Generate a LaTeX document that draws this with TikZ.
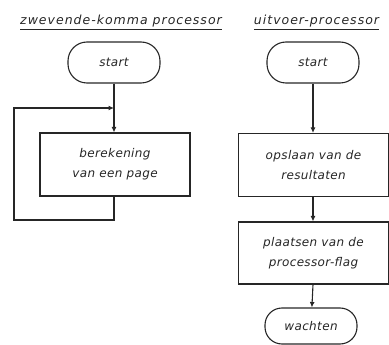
\documentclass[tikz,border=0pt]{standalone}
\usepackage{fontspec}
\setmainfont{DejaVu Sans}
\newfontfamily\titlefont[LetterSpace=8]{DejaVu Sans}
\newfontfamily\boxfont[LetterSpace=3]{DejaVu Sans}
\usepackage{tikz}
\usetikzlibrary{arrows.meta, positioning, calc}
\definecolor{InkGrey}{HTML}{262626}

\begin{document}
\begin{tikzpicture}[x = 1pt, y = -1pt,
		flowline/.style = {draw = InkGrey, line width = 1.1pt},
		flowarrow/.style = {flowline, -{Latex[length = 5.5pt, width = 5pt]}},
		termbox/.style = {flowline, rectangle, rounded corners = 19pt, minimum width = 92pt, minimum height = 41pt, inner sep = 0pt, font = \boxfont\itshape\fontsize{12}{14}\selectfont, text = InkGrey},
		procbox/.style = {flowline, rectangle, minimum width = 150pt, minimum height = 63pt, inner sep = 0pt, align = center, font = \boxfont\itshape\fontsize{12}{20}\selectfont, text = InkGrey},
		headline/.style = {inner sep = 0pt, anchor = base, font = \titlefont\itshape\fontsize{12.5}{14}\selectfont, text = InkGrey}]
						\path [use as bounding box, draw = none] (0, 0) rectangle ++(389, 345);
						\node[headline] (titleL) at (121, 25) {zwevende-komma processor};
						\node[headline] (titleR) at (316.5, 25) {uitvoer-processor};
						\draw[flowline] ($(titleL.base west) + (0, 4.5)$) -- ($(titleL.base east) + (0, 4.5)$);
						\draw[flowline] ($(titleR.base west) + (0, 4.5)$) -- ($(titleR.base east) + (0, 4.5)$);
						\node[termbox] (startL) at (114, 62.5) {start};
						\coordinate (mergeL) at (114, 108);
						\node[procbox] (calcpage) at (115, 164.5) {berekening\\van een page};
						\coordinate (loopL) at (14, 220);
						\draw[flowline] (startL) -- (mergeL);
						\draw[flowarrow] (mergeL) -- (mergeL |- calcpage.north);
						\draw[flowarrow] (calcpage.south -| mergeL) |- (loopL) |- (mergeL);
						\node[termbox] (startR) at (313, 62.5) {start};
						\node[procbox] (storeres) at (313.5, 165) {opslaan van de\\resultaten};
						\node[procbox, minimum height = 62pt] (setflag) at (313.5, 253) {plaatsen van de\\processor-flag};
						\node[termbox, minimum height = 36pt, rounded corners = 17pt] (waitR) at (311, 326) {wachten};
						\draw[flowarrow] (startR) -- (startR |- storeres.north);
						\draw[flowarrow] (storeres.south -| startR) -- (startR |- setflag.north);
						\draw[flowarrow] (setflag.south -| startR) -- (waitR);
					\end{tikzpicture}
\end{document}
